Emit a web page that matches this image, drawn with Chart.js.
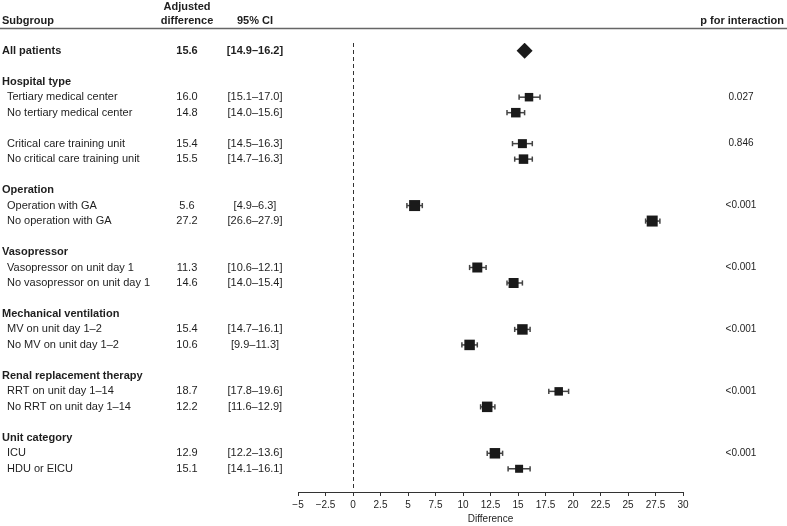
<!DOCTYPE html>
<html lang="en">
<head>
<meta charset="UTF-8">
<title>Adjusted difference by subgroup</title>
<script src="https://cdn.jsdelivr.net/npm/chart.js@4.4.1/dist/chart.umd.min.js"></script>
<style>
*{margin:0;padding:0;box-sizing:border-box}
html,body{width:787px;height:526px;background:#fff;overflow:hidden}
.wrap{position:relative;width:787px;height:526px}
</style>
</head>
<body>
<div class="wrap"><canvas id="forest"></canvas></div>
<script>
// table rows, top to bottom ("" = spacer row)
const rows = [
  "All patients", "",
  "Hospital type", "Tertiary medical center", "No tertiary medical center", "",
  "Critical care training unit", "No critical care training unit", "",
  "Operation", "Operation with GA", "No operation with GA", "",
  "Vasopressor", "Vasopressor on unit day 1", "No vasopressor on unit day 1", "",
  "Mechanical ventilation", "MV on unit day 1–2", "No MV on unit day 1–2", "",
  "Renal replacement therapy", "RRT on unit day 1–14", "No RRT on unit day 1–14", "",
  "Unit category", "ICU", "HDU or EICU"
];
const headings = ["Hospital type", "Operation", "Vasopressor", "Mechanical ventilation", "Renal replacement therapy", "Unit category"];

const overallLabel = "All patients";
const overallEstimate = 15.6;
const overallLower = 14.9;
const overallUpper = 16.2;

const subgroups = [
  "Tertiary medical center", "No tertiary medical center",
  "Critical care training unit", "No critical care training unit",
  "Operation with GA", "No operation with GA",
  "Vasopressor on unit day 1", "No vasopressor on unit day 1",
  "MV on unit day 1–2", "No MV on unit day 1–2",
  "RRT on unit day 1–14", "No RRT on unit day 1–14",
  "ICU", "HDU or EICU"
];
const estimates = [16.0, 14.8, 15.4, 15.5, 5.6, 27.2, 11.3, 14.6, 15.4, 10.6, 18.7, 12.2, 12.9, 15.1];
const ciLower   = [15.1, 14.0, 14.5, 14.7, 4.9, 26.6, 10.6, 14.0, 14.7, 9.9, 17.8, 11.6, 12.2, 14.1];
const ciUpper   = [17.0, 15.6, 16.3, 16.3, 6.3, 27.9, 12.1, 15.4, 16.1, 11.3, 19.6, 12.9, 13.6, 16.1];
const pInteraction = ["0.027", "", "0.846", "", "<0.001", "", "<0.001", "", "<0.001", "", "<0.001", "", "<0.001", ""];

// marker side lengths in px (style only)
const markerSide = [8.5, 9.5, 9, 9.5, 11, 11, 10, 10, 10.5, 10.5, 8.5, 10.5, 10.5, 8];

const FONT = '"Liberation Sans", Arial, Helvetica, sans-serif';
const INK = '#1e1e1e';
const rowOf = label => rows.indexOf(label);
const fmt = v => v.toFixed(1);
const ciText = (lo, hi) => "[" + fmt(lo) + "–" + fmt(hi) + "]";

// marker points: overall diamond first, then subgroup squares
const markerData = [{x: overallEstimate, y: rowOf(overallLabel)}]
  .concat(subgroups.map((s, i) => ({x: estimates[i], y: rowOf(s)})));
const markerStyle = ["rectRot"].concat(subgroups.map(() => "rect"));
const markerRadius = [8].concat(markerSide.map(s => s / Math.SQRT2));

// whiskers as lo/hi pairs, only same-row segments are visible
const whiskerData = [];
subgroups.forEach((s, i) => {
  whiskerData.push({x: ciLower[i], y: rowOf(s)}, {x: ciUpper[i], y: rowOf(s)});
});

const COL = {label: 2, indent: 7, est: 187, ci: 255, p: 741};

const zeroLine = {
  id: "zeroLine",
  beforeDatasetsDraw(chart) {
    const {ctx, chartArea, scales: {x}} = chart;
    const x0 = Math.round(x.getPixelForValue(0)) + 0.5;
    ctx.save();
    ctx.strokeStyle = "#333";
    ctx.lineWidth = 1;
    ctx.setLineDash([4, 3]);
    ctx.beginPath();
    ctx.moveTo(x0, chartArea.top);
    ctx.lineTo(x0, chartArea.bottom - 2);
    ctx.stroke();
    ctx.restore();
  }
};

const table = {
  id: "table",
  afterDraw(chart) {
    const {ctx, width, scales: {y}} = chart;
    const bold = "bold 11px " + FONT, reg = "11px " + FONT;
    ctx.save();
    ctx.fillStyle = INK;
    ctx.textBaseline = "middle";

    // column headers
    ctx.font = bold;
    ctx.textAlign = "left";
    ctx.fillText("Subgroup", COL.label, 21);
    ctx.textAlign = "center";
    ctx.fillText("Adjusted", COL.est, 7);
    ctx.fillText("difference", COL.est, 21);
    ctx.fillText("95% CI", COL.ci, 21);
    ctx.textAlign = "right";
    ctx.fillText("p for interaction", width - 3, 21);
    ctx.strokeStyle = "#666";
    ctx.lineWidth = 1.5;
    ctx.beginPath();
    ctx.moveTo(0, 28.5);
    ctx.lineTo(width, 28.5);
    ctx.stroke();

    // overall row
    const yo = y.getPixelForValue(rowOf(overallLabel));
    ctx.textAlign = "left";
    ctx.fillText(overallLabel, COL.label, yo);
    ctx.textAlign = "center";
    ctx.fillText(fmt(overallEstimate), COL.est, yo);
    ctx.fillText(ciText(overallLower, overallUpper), COL.ci, yo);

    // group headings
    ctx.textAlign = "left";
    headings.forEach(h => ctx.fillText(h, COL.label, y.getPixelForValue(rowOf(h))));

    // subgroup rows
    subgroups.forEach((s, i) => {
      const yy = y.getPixelForValue(rowOf(s));
      ctx.font = reg;
      ctx.textAlign = "left";
      ctx.fillText(s, COL.indent, yy);
      ctx.textAlign = "center";
      ctx.fillText(fmt(estimates[i]), COL.est, yy);
      ctx.fillText(ciText(ciLower[i], ciUpper[i]), COL.ci, yy);
      if (pInteraction[i]) {
        ctx.font = "10px " + FONT;
        ctx.fillText(pInteraction[i], COL.p, yy);
      }
    });
    ctx.restore();
  }
};

new Chart(document.getElementById("forest"), {
  type: "scatter",
  data: {
    datasets: [
      {
        label: "Adjusted difference",
        data: markerData,
        pointStyle: markerStyle,
        pointRadius: markerRadius,
        pointHoverRadius: markerRadius,
        pointBackgroundColor: "#1a1a1a",
        pointBorderColor: "#1a1a1a",
        pointBorderWidth: 0,
        showLine: false
      },
      {
        label: "95% CI",
        data: whiskerData,
        showLine: true,
        borderWidth: 1.5,
        borderColor: "#444",
        segment: {
          borderColor: c => c.p0.parsed.y === c.p1.parsed.y ? "#444" : "rgba(0,0,0,0)"
        },
        pointStyle: "line",
        rotation: 90,
        pointRadius: 2.6,
        pointBorderColor: "#444",
        pointBorderWidth: 1.5
      }
    ]
  },
  options: {
    responsive: true,
    maintainAspectRatio: false,
    animation: false,
    events: [],
    layout: {padding: {left: 298, right: 104, top: 43, bottom: 0}},
    plugins: {legend: {display: false}, tooltip: {enabled: false}},
    scales: {
      x: {
        type: "linear",
        min: -5,
        max: 30,
        ticks: {
          stepSize: 2.5,
          autoSkip: false,
          maxRotation: 0,
          padding: 3,
          color: INK,
          font: {size: 10, family: FONT},
          callback: v => v < 0 ? "\u2212" + Math.abs(v) : String(v)
        },
        grid: {display: true, drawOnChartArea: false, drawTicks: true, tickLength: 4, color: "#333", lineWidth: 1},
        border: {display: true, color: "#333", width: 1},
        title: {display: true, text: "Difference", color: INK, font: {size: 10, family: FONT}, padding: {top: 0, bottom: 1}},
        afterFit: s => { s.height = 34; }
      },
      y: {
        type: "linear",
        display: false,
        reverse: true,
        min: -0.5,
        max: 28.5
      }
    }
  },
  plugins: [zeroLine, table]
});
</script>
</body>
</html>
